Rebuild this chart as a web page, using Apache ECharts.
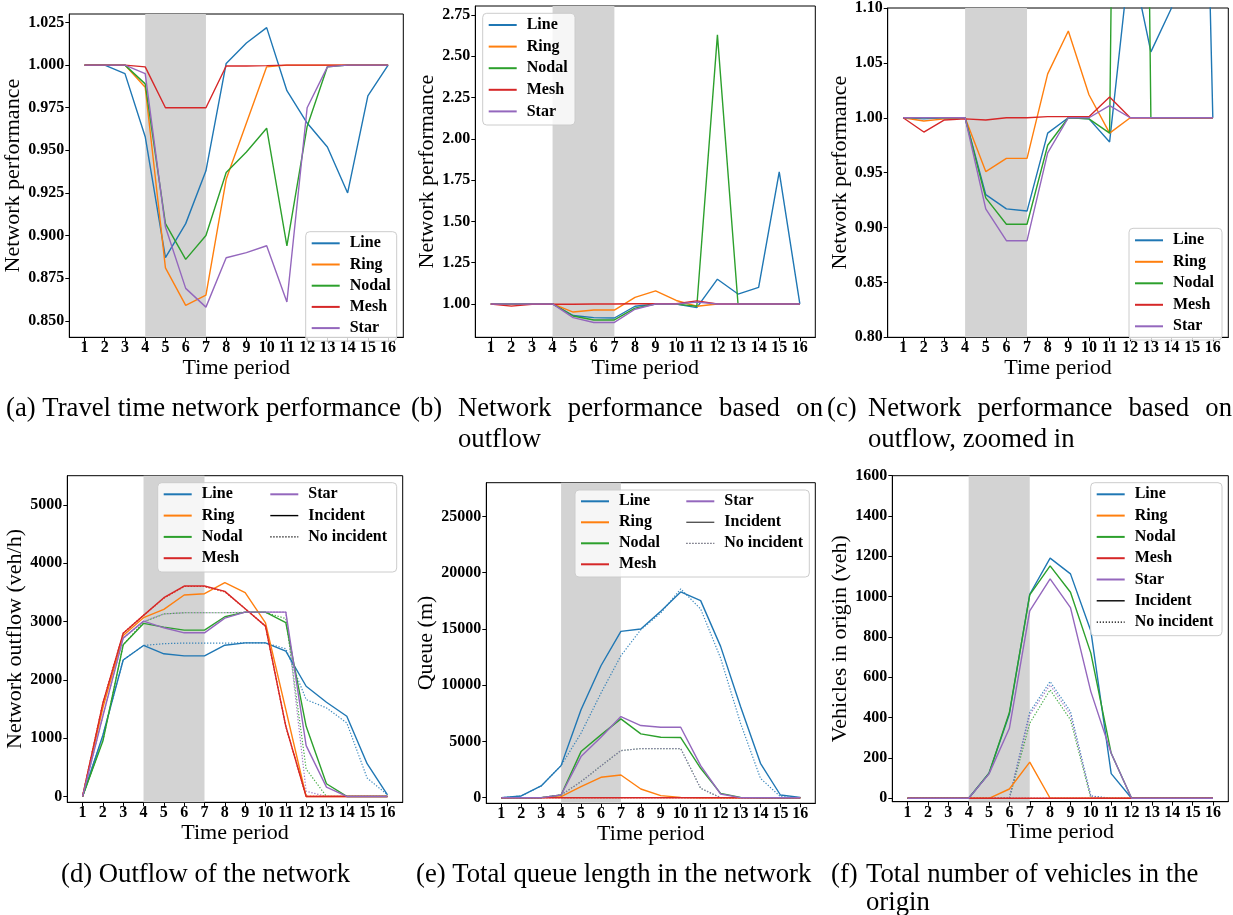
<!DOCTYPE html>
<html>
<head>
<meta charset="utf-8">
<script src="https://cdn.jsdelivr.net/npm/echarts@6/dist/echarts.min.js"></script>
<style>
  html, body { margin: 0; padding: 0; background: #fff; }
  #chart { width: 1233px; height: 915px; }
</style>
</head>
<body>
<div id="chart"></div>
<script>
// ---------- data ----------
const periods = [1, 2, 3, 4, 5, 6, 7, 8, 9, 10, 11, 12, 13, 14, 15, 16];
const networks = ['Line', 'Ring', 'Nodal', 'Mesh', 'Star'];

// (a) travel time network performance
const travelLine  = [1.000, 1.000, 0.995, 0.958, 0.887, 0.907, 0.938, 1.001, 1.013, 1.022, 0.985, 0.966, 0.952, 0.925, 0.982, 1.000];
const travelRing  = [1.000, 1.000, 1.000, 0.987, 0.881, 0.859, 0.865, 0.933, 0.966, 0.999, 1.000, 1.000, 1.000, 1.000, 1.000, 1.000];
const travelNodal = [1.000, 1.000, 1.000, 0.989, 0.907, 0.886, 0.900, 0.937, 0.949, 0.963, 0.894, 0.964, 0.999, 1.000, 1.000, 1.000];
const travelMesh  = [1.000, 1.000, 1.000, 0.999, 0.975, 0.975, 0.975, 0.9995, 0.9995, 0.9997, 1.000, 1.000, 1.000, 1.000, 1.000, 1.000];
const travelStar  = [1.000, 1.000, 1.000, 0.995, 0.905, 0.869, 0.858, 0.887, 0.890, 0.894, 0.861, 0.975, 0.999, 1.000, 1.000, 1.000];

// (b), (c) network performance based on outflow
const perfLine  = [1.000, 0.999, 1.000, 1.000, 0.930, 0.917, 0.915, 0.986, 1.000, 0.999, 0.978, 1.150, 1.060, 1.100, 1.800, 1.000];
const perfRing  = [1.000, 0.997, 0.999, 1.000, 0.951, 0.963, 0.963, 1.040, 1.079, 1.021, 0.986, 1.000, 1.000, 1.000, 1.000, 1.000];
const perfNodal = [1.000, 1.000, 1.000, 1.000, 0.927, 0.903, 0.903, 0.975, 1.000, 0.999, 0.986, 2.630, 1.000, 1.000, 1.000, 1.000];
const perfMesh  = [1.000, 0.987, 0.998, 0.999, 0.998, 1.000, 1.000, 1.001, 1.001, 1.001, 1.019, 1.000, 1.000, 1.000, 1.000, 1.000];
const perfStar  = [1.000, 1.000, 1.000, 1.000, 0.917, 0.888, 0.888, 0.968, 1.000, 1.000, 1.011, 1.000, 1.000, 1.000, 1.000, 1.000];

// (d) outflow of the network (veh/h), with incident
const outflowLine  = [0, 1050, 2340, 2589, 2446, 2411, 2411, 2594, 2634, 2634, 2491, 1890, 1615, 1375, 562, 29];
const outflowRing  = [0, 1520, 2760, 3065, 3207, 3454, 3477, 3665, 3494, 2978, 1490, 0, 0, 0, 0, 0];
const outflowNodal = [0, 950, 2600, 2967, 2904, 2852, 2852, 3081, 3161, 3161, 2979, 1203, 218, 0, 0, 0];
const outflowMesh  = [0, 1600, 2800, 3105, 3408, 3608, 3608, 3517, 3219, 2921, 1203, 0, 0, 0, 0, 0];
const outflowStar  = [0, 1380, 2715, 3007, 2892, 2806, 2806, 3058, 3161, 3161, 3161, 871, 161, 0, 0, 0];
// (d) outflow without incident
const outflowLineBase  = [0, 1050, 2340, 2589, 2620, 2630, 2630, 2630, 2634, 2634, 2532, 1661, 1519, 1261, 316, 29];
const outflowRingBase  = [0, 1600, 2800, 3105, 3400, 3600, 3600, 3510, 3220, 2920, 1200, 0, 0, 0, 0, 0];
const outflowNodalBase = [0, 950, 2600, 2990, 3130, 3150, 3150, 3150, 3155, 3155, 3050, 470, 0, 0, 0, 0];
const outflowMeshBase  = [0, 1600, 2800, 3105, 3400, 3600, 3600, 3510, 3220, 2920, 1200, 0, 0, 0, 0, 0];
const outflowStarBase  = [0, 1380, 2715, 3000, 3130, 3150, 3150, 3150, 3160, 3160, 3160, 90, 0, 0, 0, 0];

// (e) total queue length (m), with incident
const queueLine  = [0, 150, 1040, 2850, 7809, 11728, 14786, 14994, 16568, 18290, 17518, 13450, 8106, 3058, 238, 30];
const queueRing  = [0, 0, 0, 89, 980, 1811, 2019, 772, 178, 30, 0, 0, 0, 0, 0, 0];
const queueNodal = [0, 0, 0, 238, 4097, 5582, 7007, 5671, 5374, 5344, 2613, 386, 30, 0, 0, 0];
const queueMesh  = [0, 0, 0, 0, 0, 0, 0, 0, 0, 0, 0, 0, 0, 0, 0, 0];
const queueStar  = [0, 0, 0, 238, 3652, 5374, 7215, 6413, 6265, 6265, 2850, 327, 0, 0, 0, 0];
// (e) queue length without incident
const queueLineBase  = [0, 150, 1040, 2850, 5730, 9293, 12619, 14935, 16420, 18557, 16775, 12411, 6621, 1722, 89, 0];
const queueRingBase  = [0, 0, 0, 0, 0, 0, 0, 0, 0, 0, 0, 0, 0, 0, 0, 0];
const queueNodalBase = [0, 0, 0, 238, 1425, 2821, 4187, 4365, 4365, 4365, 831, 0, 0, 0, 0, 0];
const queueMeshBase  = [0, 0, 0, 0, 0, 0, 0, 0, 0, 0, 0, 0, 0, 0, 0, 0];
const queueStarBase  = [0, 0, 0, 238, 1425, 2821, 4187, 4365, 4365, 4365, 831, 0, 0, 0, 0, 0];

// (f) vehicles waiting in the origin (veh), with incident
const originLine  = [0, 0, 0, 0, 124, 418, 1012, 1191, 1113, 830, 122, 0, 0, 0, 0, 0];
const originRing  = [0, 0, 0, 0, 0, 46, 179, 0, 0, 0, 0, 0, 0, 0, 0, 0];
const originNodal = [0, 0, 0, 0, 124, 425, 1009, 1153, 1022, 720, 223, 0, 0, 0, 0, 0];
const originMesh  = [0, 0, 0, 0, 0, 0, 0, 0, 0, 0, 0, 0, 0, 0, 0, 0];
const originStar  = [0, 0, 0, 0, 121, 347, 930, 1088, 946, 529, 223, 0, 0, 0, 0, 0];
// (f) vehicles in the origin without incident
const originLineBase  = [0, 0, 0, 0, 0, 0, 427, 579, 430, 12, 0, 0, 0, 0, 0, 0];
const originRingBase  = [0, 0, 0, 0, 0, 0, 0, 0, 0, 0, 0, 0, 0, 0, 0, 0];
const originNodalBase = [0, 0, 0, 0, 0, 0, 372, 538, 389, 0, 0, 0, 0, 0, 0, 0];
const originMeshBase  = [0, 0, 0, 0, 0, 0, 0, 0, 0, 0, 0, 0, 0, 0, 0, 0];
const originStarBase  = [0, 0, 0, 0, 0, 0, 414, 562, 414, 8, 0, 0, 0, 0, 0, 0];

// incident window (time periods)
const incidentStart = 4;
const incidentEnd = 7;

// tick labels
const xTicks = periods;
const yTicksTravel = [0.850, 0.875, 0.900, 0.925, 0.950, 0.975, 1.000, 1.025];
const yTicksPerf = [1.00, 1.25, 1.50, 1.75, 2.00, 2.25, 2.50, 2.75];
const yTicksPerfZoom = [0.80, 0.85, 0.90, 0.95, 1.00, 1.05, 1.10];
const yTicksOutflow = [0, 1000, 2000, 3000, 4000, 5000];
const yTicksQueue = [0, 5000, 10000, 15000, 20000, 25000];
const yTicksOrigin = [0, 200, 400, 600, 800, 1000, 1200, 1400, 1600];

// ---------- styling ----------
const SERIF = '"Liberation Serif", "DejaVu Serif", serif';
const COLORS = { Line: '#1f77b4', Ring: '#ff7f0e', Nodal: '#2ca02c', Mesh: '#d62728', Star: '#9467bd' };
const LINE_W = 1.4;
const TICK_FONT = 16;
const LABEL_FONT = 22;

const measureCtx = document.createElement('canvas').getContext('2d');
function textWidth(s, font) { measureCtx.font = font; return measureCtx.measureText(s).width; }

const panels = [
  { grid: { left: 69.3, top: 14, width: 334, height: 323.3 },
    y: { min: 0.8403, max: 1.030, ticks: yTicksTravel, digits: 3, name: 'Network performance', gap: 38 },
    solid: [travelLine, travelRing, travelNodal, travelMesh, travelStar], dotted: null,
    legend: { x: 305.7, y: 231.7, w: 90, h: 99.3, firstRow: 242.3, step: 19.2 } },
  { grid: { left: 475.3, top: 6, width: 340, height: 331.3 },
    y: { min: 0.798, max: 2.805, ticks: yTicksPerf, digits: 2, name: 'Network performance', gap: 32 },
    solid: [perfLine, perfRing, perfNodal, perfMesh, perfStar], dotted: null,
    legend: { x: 482.7, y: 13.3, w: 91.3, h: 101.7, firstRow: 24, step: 19.6 } },
  { grid: { left: 887.7, top: 6, width: 340.6, height: 331.3 },
    y: { min: 0.80, max: 1.10, ticks: yTicksPerfZoom, digits: 2, name: 'Network performance', gap: 32 },
    solid: [perfLine, perfRing, perfNodal, perfMesh, perfStar], dotted: null,
    legend: { x: 1129, y: 228.3, w: 92, h: 101.7, firstRow: 239.3, step: 19.5 } },
  { grid: { left: 67.3, top: 475.7, width: 335.4, height: 326.6 },
    y: { min: -100, max: 5500, ticks: yTicksOutflow, digits: 0, name: 'Network outflow (veh/h)', gap: 37 },
    solid: [outflowLine, outflowRing, outflowNodal, outflowMesh, outflowStar],
    dotted: [outflowLineBase, outflowRingBase, outflowNodalBase, outflowMeshBase, outflowStarBase],
    legend: { x: 157.7, y: 482.7, w: 238, h: 81.3, firstRow: 493.3, step: 19.3, col2: 269.3 }, incidentColor: '#000' },
  { grid: { left: 486.3, top: 482.7, width: 329, height: 320.6 },
    y: { min: -500, max: 28000, ticks: yTicksQueue, digits: 0, name: 'Queue (m)', gap: 40 },
    solid: [queueLine, queueRing, queueNodal, queueMesh, queueStar],
    dotted: [queueLineBase, queueRingBase, queueNodalBase, queueMeshBase, queueStarBase],
    legend: { x: 575, y: 490, w: 233.3, h: 79, firstRow: 500.3, step: 19, col2: 685.3 }, incidentColor: '#555' },
  { grid: { left: 892.3, top: 475.7, width: 336, height: 326 },
    y: { min: -17, max: 1600, ticks: yTicksOrigin, digits: 0, name: 'Vehicles in origin (veh)', gap: 35 },
    solid: [originLine, originRing, originNodal, originMesh, originStar],
    dotted: [originLineBase, originRingBase, originNodalBase, originMeshBase, originStarBase],
    legend: { x: 1090.7, y: 482.7, w: 130.3, h: 139, firstRow: 493.3, step: 19.3 }, incidentColor: '#000' }
];

const tickLabelStyle = { fontFamily: SERIF, fontWeight: 'bold', fontSize: TICK_FONT, color: '#000' };
const axisNameStyle = { fontFamily: SERIF, fontSize: LABEL_FONT, color: '#000' };

const grids = [], xAxes = [], yAxes = [], series = [], legends = [];

const toPoints = vals => periods.map((p, i) => [p, vals[i]]);

panels.forEach((pn, gi) => {
  grids.push(Object.assign({ show: true, borderColor: '#000', borderWidth: 1, backgroundColor: 'transparent' }, pn.grid));

  xAxes.push({
    type: 'value', gridIndex: gi, min: 0.25, max: 16.75,
    name: 'Time period', nameLocation: 'middle', nameGap: 18, nameTextStyle: axisNameStyle,
    axisLine: { show: true, onZero: false, lineStyle: { color: '#000', width: 1 } },
    axisTick: { show: true, length: 4, customValues: xTicks, lineStyle: { color: '#000' } },
    axisLabel: { customValues: xTicks, margin: 3, formatter: v => String(v), ...tickLabelStyle },
    splitLine: { show: false }
  });

  yAxes.push({
    type: 'value', gridIndex: gi, min: pn.y.min, max: pn.y.max,
    name: pn.y.name, nameLocation: 'middle', nameGap: pn.y.gap, nameTextStyle: axisNameStyle,
    axisLine: { show: true, onZero: false, lineStyle: { color: '#000', width: 1 } },
    axisTick: { show: true, length: 4, customValues: pn.y.ticks, lineStyle: { color: '#000' } },
    axisLabel: { customValues: pn.y.ticks, margin: 5, formatter: v => v.toFixed(pn.y.digits), ...tickLabelStyle },
    splitLine: { show: false }
  });

  // shaded incident window
  series.push({
    type: 'line', name: 'incident window', xAxisIndex: gi, yAxisIndex: gi, z: 1, silent: true,
    symbol: 'none', data: toPoints(pn.solid[0]), lineStyle: { opacity: 0 },
    markArea: { silent: true, itemStyle: { color: '#d3d3d3' },
      data: [[{ xAxis: incidentStart }, { xAxis: incidentEnd }]] }
  });

  if (pn.dotted) {
    networks.forEach((net, k) => {
      series.push({
        type: 'line', name: net + ' without incident', xAxisIndex: gi, yAxisIndex: gi, z: 2,
        symbol: 'none', silent: true, data: toPoints(pn.dotted[k]),
        lineStyle: { color: COLORS[net], width: 1.2, type: [1.3, 1.7], opacity: 0.85 }
      });
    });
  }
  networks.forEach((net, k) => {
    series.push({
      type: 'line', name: net, xAxisIndex: gi, yAxisIndex: gi, z: 3,
      symbol: 'none', silent: true, data: toPoints(pn.solid[k]),
      itemStyle: { color: COLORS[net] },
      lineStyle: { color: COLORS[net], width: LINE_W }
    });
  });
});

// legend-only entries for the line styles
series.push({ type: 'line', name: 'Incident', xAxisIndex: 3, yAxisIndex: 3, symbol: 'none', data: [],
  itemStyle: { color: '#000' }, lineStyle: { color: '#000', width: LINE_W } });
series.push({ type: 'line', name: 'No incident', xAxisIndex: 3, yAxisIndex: 3, symbol: 'none', data: [],
  itemStyle: { color: '#000' }, lineStyle: { color: '#000', width: 1.2, type: [1.3, 1.7] } });

// ---------- legends ----------
const LEG_FONT = 'bold 16px ' + SERIF;
const LROW = 14;
const LPAD_LEFT = 5;
const ICON_W = 28;
const TEXT_PAD = 5;

function legendItem(name, incidentColor) {
  if (name === 'Incident') return { name, lineStyle: { color: incidentColor, width: LINE_W, type: 'solid', opacity: 1 } };
  if (name === 'No incident') return { name, lineStyle: { color: incidentColor === '#555' ? '#556' : '#000', width: 1.2, type: [1.3, 1.7], opacity: 1 } };
  return { name };
}

function addLegend(names, left, top, padding, withBg, incidentColor) {
  legends.push({
    show: true, orient: 'vertical', left, top, padding,
    itemWidth: ICON_W, itemHeight: 10, itemGap: 0,
    selectedMode: false,
    backgroundColor: withBg ? 'rgba(255,255,255,0.8)' : 'transparent',
    borderColor: withBg ? '#cccccc' : 'transparent', borderWidth: withBg ? 1 : 0, borderRadius: 4,
    itemStyle: { opacity: 0 },
    textStyle: { fontFamily: SERIF, fontWeight: 'bold', fontSize: 16, color: '#000',
      lineHeight: LROW, padding: [0, 0, 0, TEXT_PAD] },
    data: names.map(n => legendItem(n, incidentColor))
  });
}

panels.forEach(pn => {
  const L = pn.legend;
  const gap = L.step - LROW;
  const padTop = L.firstRow - LROW / 2 - L.y;
  if (L.col2) {
    const col1 = ['Line', 'Ring', 'Nodal', 'Mesh'];
    const col2 = ['Star', 'Incident', 'No incident'];
    const h1 = col1.length * LROW + (col1.length - 1) * gap;
    const maxW = Math.max(...col1.map(n => textWidth(n, LEG_FONT)));
    const contentW = ICON_W + 5 + TEXT_PAD + maxW;
    const padRight = L.w - LPAD_LEFT - contentW;
    const padBottom = L.h - padTop - h1;
    const first = legends.length;
    addLegend(col1, L.x, L.y, [padTop, padRight, padBottom, LPAD_LEFT], true, pn.incidentColor);
    addLegend(col2, L.col2, L.y, [padTop, 0, 0, 0], false, pn.incidentColor);
    legends[first].itemGap = gap;
    legends[first + 1].itemGap = gap;
    legends[first + 1].z = 5;
  } else {
    const names = pn.dotted ? networks.concat(['Incident', 'No incident']) : networks;
    const h = names.length * LROW + (names.length - 1) * gap;
    const maxW = Math.max(...names.map(n => textWidth(n, LEG_FONT)));
    const contentW = ICON_W + 5 + TEXT_PAD + maxW;
    const padRight = L.w - LPAD_LEFT - contentW;
    const padBottom = L.h - padTop - h;
    addLegend(names, L.x, L.y, [padTop, padRight, padBottom, LPAD_LEFT], true, pn.incidentColor);
    legends[legends.length - 1].itemGap = gap;
  }
});

// ---------- sub-figure captions ----------
const capRef = '(a) Travel time network performance';
const CAP_SIZE = Math.round(395 * 100 / textWidth(capRef, '100px ' + SERIF) * 10) / 10;
const CAP_FONT = CAP_SIZE + 'px ' + SERIF;

const graphics = [];
function caption(text, x, y) {
  graphics.push({ type: 'text', x, y, silent: true,
    style: { text, font: CAP_FONT, fill: '#000', textVerticalAlign: 'middle', verticalAlign: 'middle' } });
}
function justified(words, x0, x1, y) {
  const widths = words.map(w => textWidth(w, CAP_FONT));
  const gap = (x1 - x0 - widths.reduce((a, b) => a + b, 0)) / (words.length - 1);
  let x = x0;
  words.forEach((w, i) => { caption(w, x, y); x += widths[i] + gap; });
}

caption(capRef, 6, 409);
caption('(b)', 411, 409);
justified(['Network', 'performance', 'based', 'on'], 458, 823, 409);
caption('outflow', 458, 440);
caption('(c)', 827, 409);
justified(['Network', 'performance', 'based', 'on'], 868, 1232, 409);
caption('outflow, zoomed in', 868, 440);
caption('(d) Outflow of the network', 61, 875);
caption('(e) Total queue length in the network', 416, 875);
caption('(f)', 831, 875);
caption('Total number of vehicles in the', 866, 875);
caption('origin', 866, 903);

const chart = echarts.init(document.getElementById('chart'), null, { renderer: 'canvas', width: 1233, height: 915 });
chart.setOption({
  animation: false,
  backgroundColor: '#fff',
  grid: grids,
  xAxis: xAxes,
  yAxis: yAxes,
  legend: legends,
  series,
  graphic: graphics
});
</script>
</body>
</html>
